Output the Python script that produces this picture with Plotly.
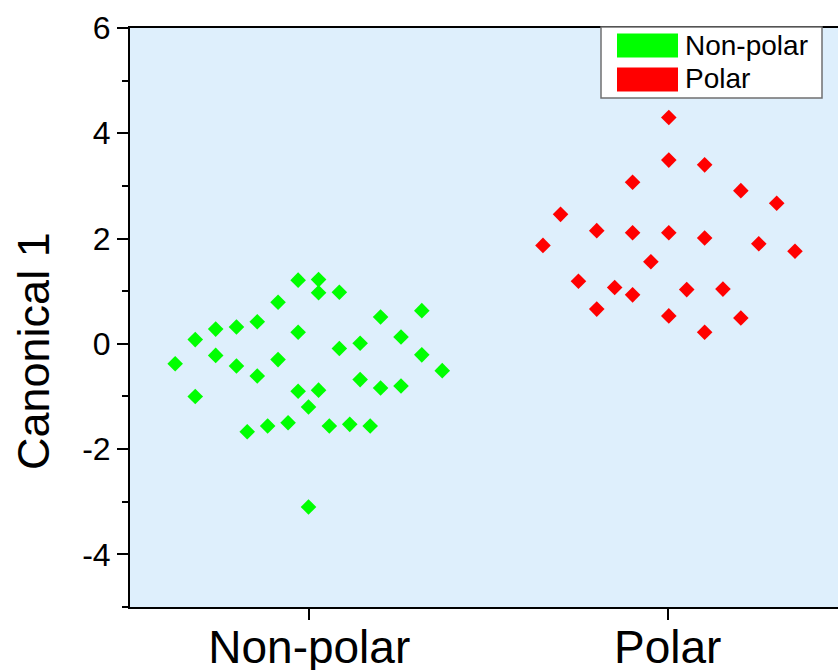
import plotly.graph_objects as go

categories = ["Non-polar", "Polar"]
cat_pos = [1, 2]

nonpolar_jitter = [-0.031, 0.026, 0.026, 0.084, -0.087, 0.314, 0.199, -0.145, -0.203, -0.261,
                   -0.031, -0.318, 0.256, 0.084, 0.142, -0.261, 0.314, -0.374, -0.203, -0.087,
                   0.371, -0.145, 0.142, 0.199, 0.256, -0.031, 0.026, -0.318, -0.002, -0.173,
                   -0.116, -0.059, 0.056, 0.113, 0.170, -0.002]
nonpolar_vals = [1.21, 1.22, 0.97, 0.98, 0.79, 0.63, 0.51, 0.42, 0.32, 0.28,
                 0.22, 0.08, 0.13, -0.09, 0.01, -0.22, -0.21, -0.38, -0.42, -0.30,
                 -0.51, -0.61, -0.68, -0.84, -0.80, -0.90, -0.88, -1.00, -1.20, -1.67,
                 -1.56, -1.50, -1.56, -1.53, -1.56, -3.10]

polar_jitter = [0.003, 0.003, 0.103, -0.098, 0.204, 0.304, -0.299, -0.198, -0.098, 0.003,
                0.103, 0.254, -0.348, 0.355, -0.047, -0.249, -0.148, -0.098, 0.053, 0.154,
                -0.198, 0.003, 0.204, 0.103]
polar_vals = [4.30, 3.49, 3.40, 3.07, 2.91, 2.67, 2.46, 2.15, 2.11, 2.11,
              2.01, 1.90, 1.87, 1.76, 1.56, 1.19, 1.07, 0.93, 1.03, 1.04,
              0.66, 0.53, 0.49, 0.22]

y_ticks = [-4, -2, 0, 2, 4, 6]
y_tick_labels = ["-4", "-2", "0", "2", "4", "6"]
colors = ["#00FF00", "#FF0000"]

fig = go.Figure()
for pos, jit, vals, col, name in [(cat_pos[0], nonpolar_jitter, nonpolar_vals, colors[0], categories[0]),
                                  (cat_pos[1], polar_jitter, polar_vals, colors[1], categories[1])]:
    fig.add_trace(go.Scatter(
        x=[pos + j for j in jit], y=vals, mode="markers", name=name,
        marker=dict(symbol="diamond", size=12, color=col, line=dict(width=0)),
        showlegend=False))

W, H = 838, 670
L, R, T, B = 130, 0, 28, 63
pw, ph = W - L - R, H - T - B

def px(x):
    return (x - L) / pw

def py(y):
    return (H - B - y) / ph

shapes = []
annotations = []
# legend box
shapes.append(dict(type="rect", xref="paper", yref="paper",
                   x0=px(601), x1=px(822), y0=py(98), y1=py(27),
                   fillcolor="white", line=dict(color="#707070", width=1.5), layer="above"))
for (y0, y1, yc), col, name in [((33.5, 57.5, 45), colors[0], categories[0]),
                                ((67.5, 91.5, 79), colors[1], categories[1])]:
    shapes.append(dict(type="rect", xref="paper", yref="paper",
                       x0=px(617), x1=px(678), y0=py(y1), y1=py(y0),
                       fillcolor=col, line=dict(width=0), layer="above"))
    annotations.append(dict(x=px(683), y=py(yc), xref="paper", yref="paper",
                            text=name, showarrow=False, xanchor="left", yanchor="middle",
                            font=dict(family="Liberation Sans, Arial", size=28, color="black")))

annotations.append(dict(x=-(130 - 33) / pw, y=py(351), xref="paper", yref="paper",
                        text="Canonical 1", textangle=-90, showarrow=False,
                        xanchor="center", yanchor="middle",
                        font=dict(family="Liberation Sans, Arial", size=45, color="black")))

fig.update_layout(
    width=W, height=H,
    margin=dict(l=L, r=R, t=T, b=B, pad=0, autoexpand=False),
    paper_bgcolor="white", plot_bgcolor="#DEEFFC",
    shapes=shapes, annotations=annotations,
    font=dict(family="Liberation Sans, Arial", color="black"),
    xaxis=dict(range=[0.5, 2.475], tickmode="array", tickvals=cat_pos, ticktext=categories,
               automargin=False, ticklabelstandoff=-12,
               showgrid=False, zeroline=False, showline=True, linecolor="black", linewidth=2,
               mirror=True, ticks="outside", ticklen=11, tickwidth=2, tickcolor="black",
               tickfont=dict(size=46)),
    yaxis=dict(range=[-5, 6], tickmode="array", tickvals=y_ticks, ticktext=y_tick_labels,
               automargin=False,
               showgrid=False, zeroline=False, showline=True, linecolor="black", linewidth=2,
               ticks="outside", ticklen=11, tickwidth=2, tickcolor="black",
               tickfont=dict(size=32),
               minor=dict(ticks="outside", ticklen=6, tickwidth=2, tickcolor="black",
                          dtick=1, tick0=1, showgrid=False)),
)

fig.write_html("out.html")
